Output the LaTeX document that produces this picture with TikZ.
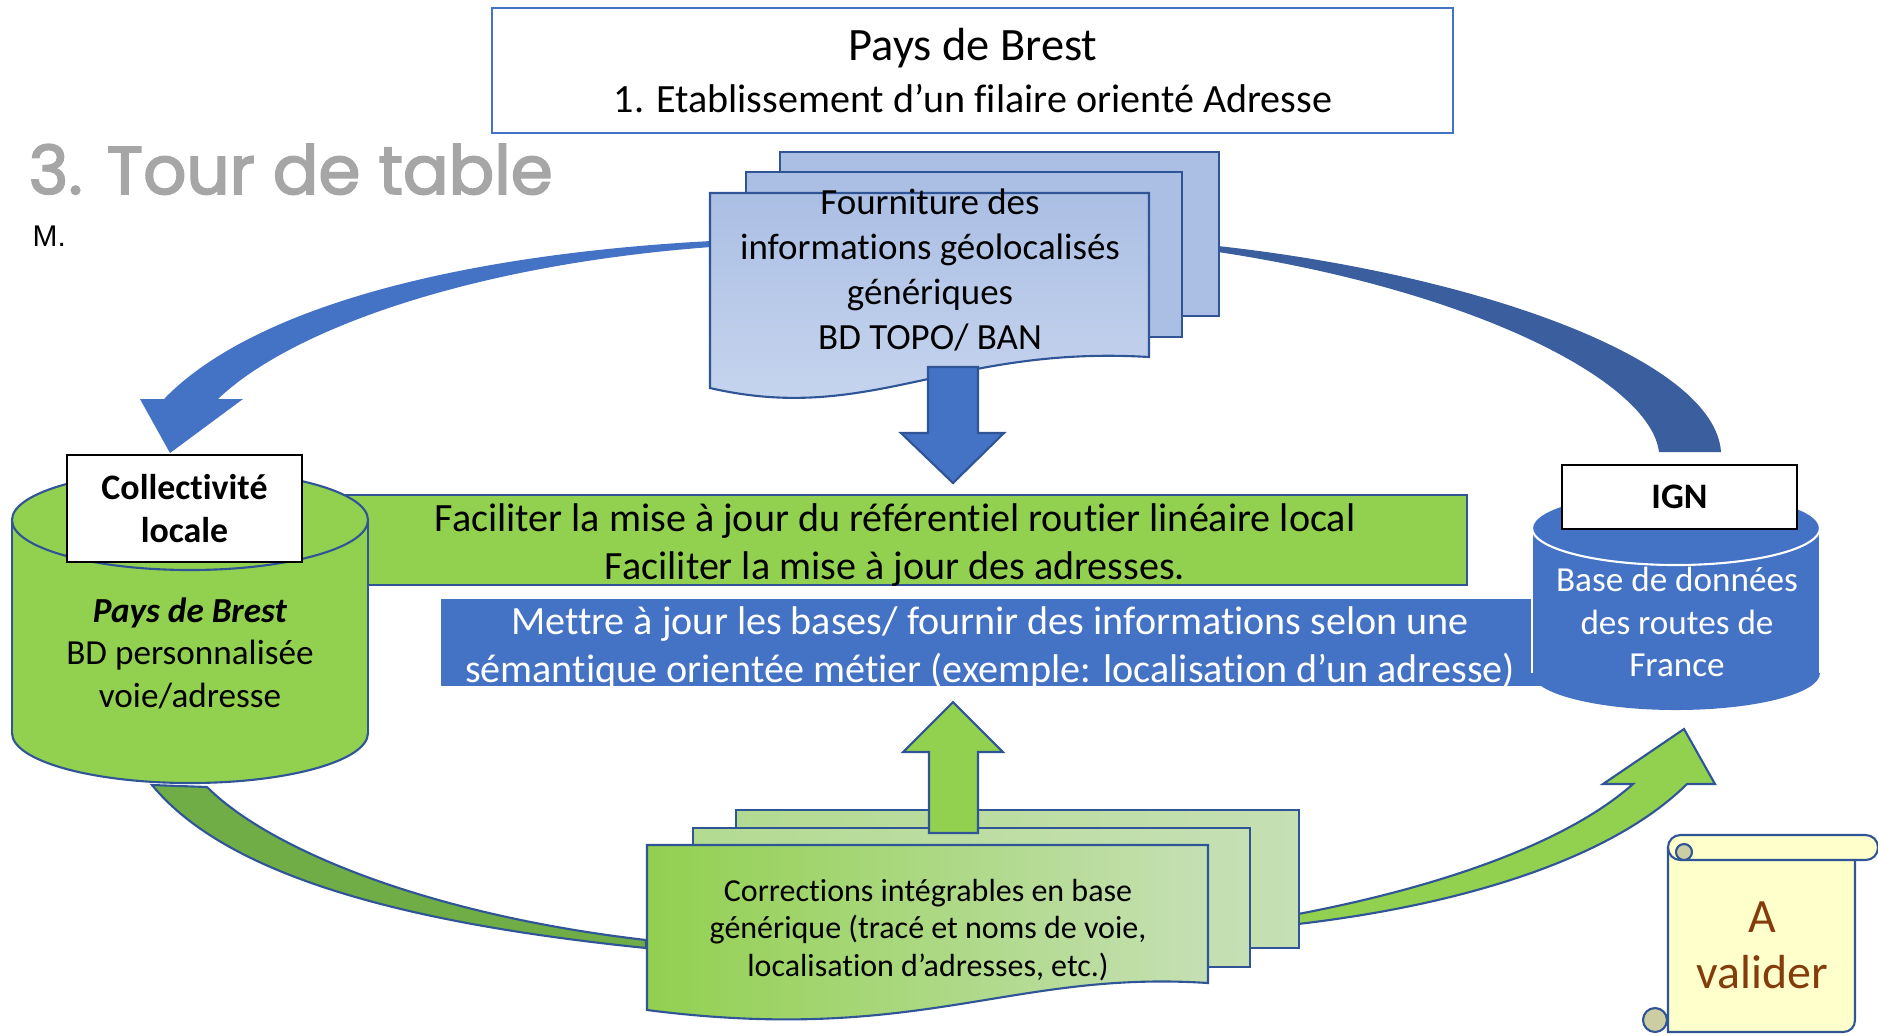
\documentclass[tikz,border=0pt]{standalone}
\usepackage{fontspec}
\setmainfont[Ligatures=NoCommon, Contextuals=NoAlternate]{Carlito}
\newfontfamily\headfont[FakeBold=2.6]{Poppins}
\newfontfamily\arialfont{Liberation Sans}
\usetikzlibrary{calc}

\definecolor{ppblue}{HTML}{4472C4}
\definecolor{ppdark}{HTML}{2F5597}
\definecolor{ppnavy}{HTML}{3A5E9E}
\definecolor{ppgreen}{HTML}{92D050}
\definecolor{ppgreendk}{HTML}{70AD47}
\definecolor{pppale}{HTML}{C5E0B4}
\definecolor{docblue}{HTML}{ABBFE4}
\definecolor{docbluelt}{HTML}{C9D7EF}
\definecolor{scrollfill}{HTML}{FFFFCC}
\definecolor{scrollcurl}{HTML}{CDCDA4}
\definecolor{headgray}{HTML}{A6A6A6}
\definecolor{validbrown}{HTML}{843C0C}

\tikzset{
  outl/.style={draw=ppdark, line width=0.6pt},
  sheetblue/.style={outl, fill=docblue},
  sheetgreen/.style={outl, left color=ppgreen!35!pppale, right color=pppale},
  labelbox/.style={draw=black, fill=white, line width=0.6pt, minimum width=2.35cm, align=center, font=\bfseries\fontsize{10.2}{12.2}\selectfont},
  cyltext/.style={align=center, font=\fontsize{10}{12.1}\selectfont},
  bartext/.style={align=center, font=\fontsize{11.4}{13.6}\selectfont}
}

\begin{document}
\begin{tikzpicture}[x=0.01cm, y=-0.01cm]
\useasboundingbox (0,0) rectangle (1878,1035);

\coordinate (tlstart) at (711,244);
\coordinate (trstart) at (1218,249);
\coordinate (blend) at (646,944);
\coordinate (brstart) at (1298,919);

\fill[ppblue] (711,241) .. controls (450,255) and (250,310) .. (164,399) -- (140,399) -- (170,453) -- (243,399) -- (218,399) .. controls (290,330) and (470,265) .. (711,247) -- cycle;
\fill[ppnavy] (1218,246) .. controls (1480,275) and (1715,360) .. (1721,452) -- (1659,452) .. controls (1650,380) and (1470,290) .. (1218,252) -- cycle;
\filldraw[outl, fill=ppgreendk] (152,785) .. controls (230,880) and (420,925) .. (646,948) -- (646,940) .. controls (430,915) and (270,850) .. (207,787) -- cycle;
\filldraw[outl, fill=ppgreen] (1298,914) .. controls (1450,885) and (1570,840) .. (1633,784) -- (1603,784) -- (1684,729) -- (1715,784) -- (1687,784) .. controls (1610,860) and (1460,905) .. (1298,924) -- cycle;

\filldraw[outl, fill=ppgreen] (300,495) rectangle (1467,585);
\fill[ppblue] (441,599) rectangle (1560,686);
\node[bartext] (goalA) at (895,545) {Faciliter la mise à jour du référentiel routier linéaire local\\Faciliter la mise à jour des adresses.};
\node[bartext, text=white] (goalB) at (990,648) {Mettre à jour les bases/ fournir des informations selon une\\sémantique orientée métier (exemple: localisation d’un adresse)};

\filldraw[outl, fill=ppgreen] (190,733) ellipse [x radius=178, y radius=50];
\fill[ppgreen] (12,520) rectangle (368,733);
\draw[outl] (12,520) -- (12,733) (368,520) -- (368,733);
\filldraw[outl, fill=ppgreen] (190,520) ellipse [x radius=178, y radius=50];

\fill[ppblue] (1676,673) ellipse [x radius=144, y radius=37];
\fill[ppblue] (1532,528) rectangle (1820,673);
\draw[white, line width=0.6pt] (1532,528) -- (1532,673) (1820,528) -- (1820,673);
\filldraw[draw=white, line width=0.6pt, fill=ppblue] (1676,528) ellipse [x radius=144, y radius=37];

\node[labelbox, minimum height=1.07cm] (colloc) at (184.5,508.5) {Collectivité\\locale};
\node[labelbox, minimum height=0.64cm] (ign) at (1679.5,497) {IGN};
\node[cyltext] (paysbd) at (190,653) {\textbf{\textit{Pays de Brest}}\\BD personnalisée\\voie/adresse};
\node[cyltext, text=white] (ignbd) at (1677,622) {Base de données\\des routes de\\France};

\filldraw[sheetblue] (780,152) rectangle (1219,316);
\filldraw[sheetblue] (746,172) rectangle (1182,337);
\path[outl, top color=docblue, middle color=docblue, bottom color=docbluelt] (710,193) -- (1149,193) -- (1149,357) .. controls (950,345) and (870,425) .. (710,388) -- cycle;
\node[align=center, font=\fontsize{10.5}{12.8}\selectfont] (fourn) at (930,270) {Fourniture des\\informations géolocalisés\\génériques\\BD TOPO/ BAN};
\filldraw[outl, fill=ppblue] (928,367) -- (978,367) -- (978,433) -- (1004,433) -- (953,483) -- (901,433) -- (928,433) -- cycle;

\filldraw[sheetgreen] (736,810) rectangle (1299,948);
\filldraw[sheetgreen] (693,828) rectangle (1250,967);
\path[outl, left color=ppgreen, right color=pppale] (647,845) -- (1208,845) -- (1208,983) .. controls (1010,970) and (920,1045) .. (647,1010) -- cycle;
\node[align=center, font=\fontsize{9.1}{10.7}\selectfont] (corr) at (928,930) {Corrections intégrables en base\\générique (tracé et noms de voie,\\localisation d’adresses, etc.)};
\filldraw[outl, fill=ppgreen] (929,833) -- (929,752) -- (903,752) -- (953,702) -- (1003,752) -- (978,752) -- (978,833) -- cycle;

\node[draw=ppblue, fill=white, line width=0.5pt, minimum width=9.61cm, minimum height=1.25cm] (titlebox) at (972.5,70.5) {};
\node[font=\fontsize{13.2}{15}\selectfont] (titleA) at (973,48) {Pays de Brest};
\node[font=\fontsize{11.4}{13}\selectfont] (titleB) at (973,99) {1. Etablissement d’un filaire orienté Adresse};

\node[anchor=base west, inner sep=0pt, text=headgray, font=\headfont\fontsize{19.2}{22}\selectfont] (heading) at (28,194) {3. Tour de table};
\node[anchor=base west, inner sep=0pt, font=\arialfont\fontsize{8.5}{9}\selectfont] (initial) at (32,246) {M.};

\filldraw[outl, fill=scrollfill] (1668,848) -- (1668,1032) -- (1843,1032) .. controls (1850,1032) and (1855,1027) .. (1855,1020) -- (1855,848) -- cycle;
\filldraw[outl, fill=scrollfill, rounded corners=3.5pt] (1668,835) rectangle (1878,860);
\filldraw[outl, fill=scrollcurl] (1684,852) circle [radius=8];
\filldraw[outl, fill=scrollcurl] (1655,1020) circle [radius=12];
\node[align=center, text=validbrown, font=\fontsize{13.6}{16}\selectfont] (valider) at (1762,945) {A\\valider};
\end{tikzpicture}
\end{document}
